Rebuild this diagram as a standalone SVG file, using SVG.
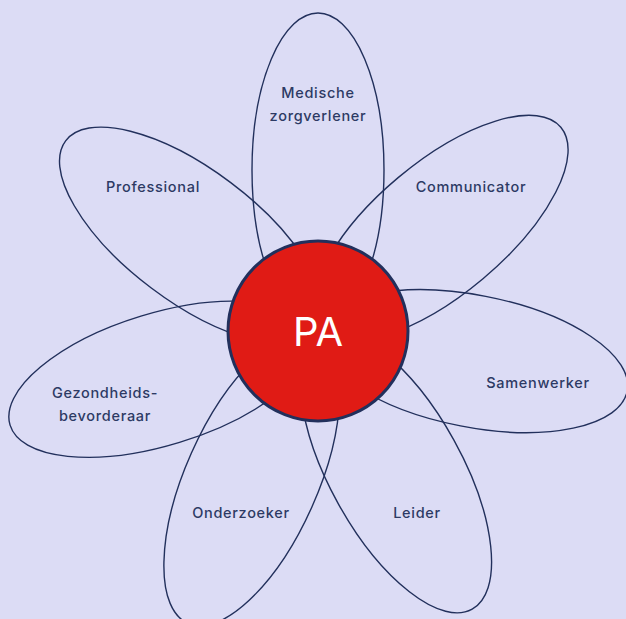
<svg xmlns="http://www.w3.org/2000/svg" width="626" height="619" viewBox="0 0 626 619">
  <style>
    .petal { fill: none; stroke: #22305c; stroke-width: 1.4; }
    .lbl { font-family: Inter, "Noto Sans", "Liberation Sans", sans-serif; font-size: 14.5px; font-weight: 500; fill: #2d3a64; text-anchor: middle; letter-spacing: 0.7px; }
    .core { fill: #e01b15; stroke: #22305c; stroke-width: 3; }
    .pa { font-family: Inter, "Noto Sans", "Liberation Sans", sans-serif; font-size: 40px; font-weight: 400; fill: #ffffff; text-anchor: middle; }
  </style>
  <rect x="0" y="0" width="626" height="619" fill="#dcdcf5"/>
  <g id="petals">
    <g id="petal-medische"><ellipse class="petal" cx="318" cy="170" rx="66" ry="157" transform="rotate(0 318 331)"/></g>
    <g id="petal-communicator"><ellipse class="petal" cx="318" cy="171" rx="66" ry="157" transform="rotate(50 318 331)"/></g>
    <g id="petal-samenwerker"><ellipse class="petal" cx="318" cy="173" rx="66" ry="157" transform="rotate(101 318 331)"/></g>
    <g id="petal-leider"><ellipse class="petal" cx="318" cy="170" rx="66" ry="157" transform="rotate(151 318 331)"/></g>
    <g id="petal-onderzoeker"><ellipse class="petal" cx="318" cy="168" rx="66" ry="157" transform="rotate(204 318 331)"/></g>
    <g id="petal-gezondheid"><ellipse class="petal" cx="318" cy="166" rx="66" ry="157" transform="rotate(253 318 331)"/></g>
    <g id="petal-professional"><ellipse class="petal" cx="318" cy="172" rx="66" ry="157" transform="rotate(307 318 331)"/></g>
  </g>
  <g id="labels">
    <text class="lbl" x="318" y="98">Medische</text>
    <text class="lbl" x="318" y="121">zorgverlener</text>
    <text class="lbl" x="471" y="192">Communicator</text>
    <text class="lbl" x="538" y="388">Samenwerker</text>
    <text class="lbl" x="417" y="518">Leider</text>
    <text class="lbl" x="241" y="518">Onderzoeker</text>
    <text class="lbl" x="105" y="398">Gezondheids-</text>
    <text class="lbl" x="105" y="421">bevorderaar</text>
    <text class="lbl" x="153" y="192">Professional</text>
  </g>
  <g id="center">
    <circle class="core" cx="318" cy="331" r="90"/>
    <text class="pa" x="318" y="346">PA</text>
  </g>
</svg>
